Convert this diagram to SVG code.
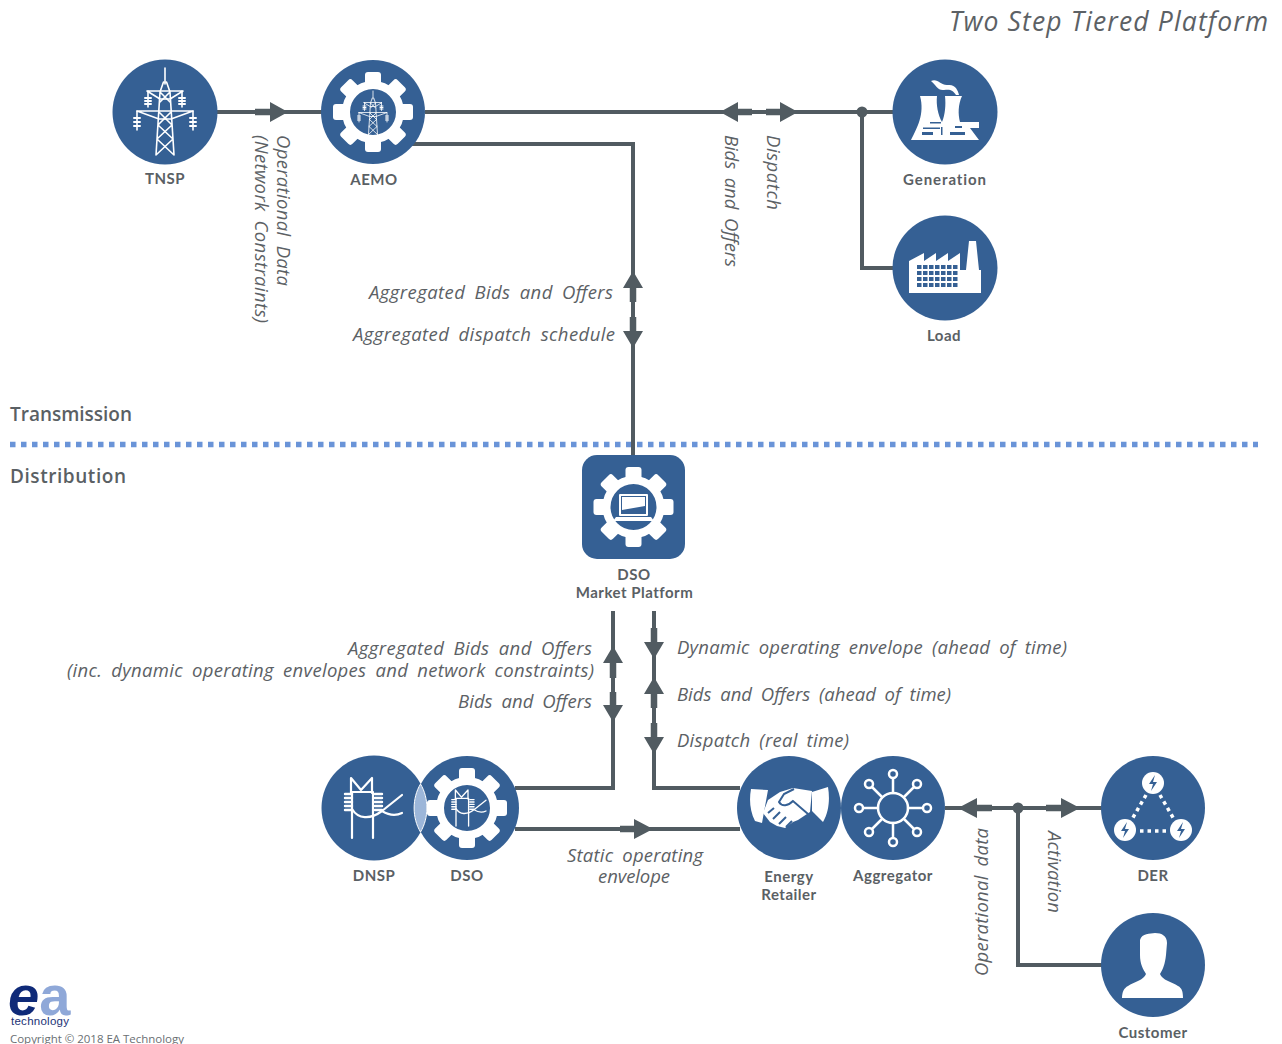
<svg xmlns="http://www.w3.org/2000/svg" xmlns:xlink="http://www.w3.org/1999/xlink" width="1282" height="1044" viewBox="0 0 1282 1044">
<style>
text{font-family:"Open Sans","Liberation Sans",sans-serif;fill:#595f63}
.n{font-family:Lato,"Open Sans",sans-serif;font-size:15px;font-weight:700;text-anchor:middle;fill:#5a6064;letter-spacing:.5px}
.l{font-size:18.5px;font-style:italic;word-spacing:4px;fill:#5c6165}
.s{font-size:19px;font-weight:600;fill:#5a6064}
.c{fill:#356094}
.w{stroke:#fff;fill:none;stroke-linecap:round;stroke-linejoin:round}
.wf{fill:#fff}
.ln{fill:none;stroke:#515b61;stroke-width:4}
.st{fill:none;stroke:#515b61;stroke-width:6.500}
.ah{fill:#515b61}
.logo{font-family:"Liberation Sans",sans-serif;font-size:56px;font-weight:700}
</style>
<defs>
<g id="gear">
<circle r="27" fill="none" stroke="#fff" stroke-width="8"/>
<g class="wf">
<rect x="-8" y="-40" width="16" height="15" rx="3"/>
<rect x="-8" y="-40" width="16" height="15" rx="3" transform="rotate(45)"/>
<rect x="-8" y="-40" width="16" height="15" rx="3" transform="rotate(90)"/>
<rect x="-8" y="-40" width="16" height="15" rx="3" transform="rotate(135)"/>
<rect x="-8" y="-40" width="16" height="15" rx="3" transform="rotate(180)"/>
<rect x="-8" y="-40" width="16" height="15" rx="3" transform="rotate(225)"/>
<rect x="-8" y="-40" width="16" height="15" rx="3" transform="rotate(270)"/>
<rect x="-8" y="-40" width="16" height="15" rx="3" transform="rotate(315)"/>
</g>
</g>
<g id="pylon" class="w" stroke-width="1.600">
<path d="M0-44V-28M-1.500-30L-5-20M1.500-30L5-20M-5-20L-9 43M5-20L9 43M-5-20L5-10M5-20L-5-10M-6 0L7 13M6 0L-7 13M-7 13L8 27M7 13L-8 27M-8 27L9 43M8 27L-9 43"/>
<path d="M-18-21H18L5-13H-5ZM-28-1H28L6 7H-6Z"/>
<path d="M-17-21V-5M17-21V-5M-28-1V18M28-1V18"/>
<path d="M-20-14H-14M-20-11H-14M-20-8H-14M14-14H20M14-11H20M14-8H20M-31 6H-25M-31 10H-25M-31 14H-25M25 6H31M25 10H31M25 14H31" stroke-width="2"/>
</g>
<g id="sub" class="w" stroke-width="2.200">
<path d="M-11-15V-30L-1-18L10-30V-15"/>
<path d="M-11-16H11M-10-16V30M11-16V30"/>
<path d="M-17-14H-10M-17-10H-10M-17-6H-10M-17-2H-10M-17 2H-10M13-14H20M13-10H20M13-6H20M13-2H20M13 2H20" stroke-width="2.400"/>
<path d="M-10 1C-4 11 8 12 20 3L40-13M20 3C28 8 34 8 40 5"/>
</g>
<g id="bolt"><circle r="11" fill="#fff"/><path d="M2-8L-4 1H0L-2 8L4-1H0Z" fill="#356094"/></g>
</defs>

<g id="tier-divider"><path d="M10 444.500H1258" fill="none" stroke="#6a94d8" stroke-width="5.500" stroke-dasharray="5.500 5.500"/></g>

<g id="connectors">
<path class="ln" d="M217 112H322M425 112H893"/>
<path class="ln" d="M412 144H633V455"/>
<path class="ln" d="M893 268H862V112"/>
<circle cx="862" cy="112" r="5.500" class="ah"/>
<path class="ln" d="M613 611V788H515"/>
<path class="ln" d="M654 611V788H740"/>
<path class="ln" d="M515 829H740"/>
<path class="ln" d="M945 808H1102M1102 965H1018V808"/>
<circle cx="1018" cy="808" r="5.500" class="ah"/>
<path class="st" d="M255 112H272M737 112H752M766 112H782M633 288V302M633 317V332M613 663V678M613 692V706M654 628V643M654 693V708M654 723V738M620 829H636M976 808H992M1046 808H1062"/>
<path class="ah" d="M270 102L288 112L270 122ZM738 102L720 112L738 122ZM780 102L798 112L780 122ZM623 288L633 271L643 288ZM623 331L633 348L643 331ZM603 663L613 646L623 663ZM603 705L613 722L623 705ZM644 642L654 659L664 642ZM644 694L654 677L664 694ZM644 737L654 754L664 737ZM634 819L653 829L634 839ZM977 798L958 808L977 818ZM1061 798L1080 808L1061 818Z"/>
</g>

<g id="tnsp"><circle class="c" cx="165" cy="112" r="52.500"/><use xlink:href="#pylon" href="#pylon" transform="translate(165 112)"/><text class="n" x="165" y="184">TNSP</text></g>
<g id="aemo"><circle class="c" cx="373" cy="112" r="52"/><use href="#gear" xlink:href="#gear" transform="translate(373 112)"/><use href="#pylon" xlink:href="#pylon" transform="translate(373 113) scale(.5)"/><text class="n" x="374" y="185">AEMO</text></g>

<g id="generation"><circle class="c" cx="945" cy="112" r="52.500"/>
<path class="wf" d="M920 96H937C936 105 938 115 942 122C945 115 946 105 945 96H962C958 105 958 114 960 122H979V128H970L979 140H911C917 128 925 114 920 96Z"/>
<path class="wf" d="M931 81C938 78 941 86 948 85C955 84 958 90 959 95H956C953 90 950 89 944 90C938 91 936 85 931 81Z"/>
<g fill="#356094"><rect x="930" y="122" width="11" height="1.500"/><rect x="923" y="127.500" width="17" height="1.500"/><rect x="922" y="132" width="11" height="3"/><rect x="941" y="127" width="1.500" height="8"/><rect x="950" y="132" width="15" height="3"/><rect x="955" y="126" width="7" height="2"/></g>
<text class="n" x="945" y="185" letter-spacing=".9" style="letter-spacing:.9px">Generation</text></g>

<g id="load"><circle class="c" cx="945" cy="268" r="52.500"/>
<path class="wf" d="M909 261L924 253V261L936 253V261L948 253V261L960 253V270H966L969 241H976L979 270H981V293H909Z"/>
<path d="M917 267H959M917 273H959M917 279H959M917 285H959" fill="none" stroke="#356094" stroke-width="4" stroke-dasharray="4.500 1.500"/>
<text class="n" x="944" y="341">Load</text></g>

<g id="dso-market"><rect class="c" x="582" y="455" width="103" height="104" rx="15"/><use href="#gear" xlink:href="#gear" transform="translate(633.500 507)"/>
<path class="w" stroke-width="2" d="M620 495H647V515H620Z"/><path class="wf" d="M622 497H645V506L622 510ZM616 517H651L654 521H613Z"/>
<text class="n" x="634" y="580">DSO</text><text class="n" x="634.500" y="598">Market Platform</text></g>

<g id="dnsp"><circle class="c" cx="374" cy="808" r="52.500"/><use href="#sub" xlink:href="#sub" transform="translate(362 808)"/><text class="n" x="374" y="881">DNSP</text></g>
<g id="dso"><circle class="c" cx="467" cy="808" r="52"/><path d="M420.500 784C412 798 412 818 420.500 832C429 818 429 798 420.500 784Z" fill="#9cb6d9" stroke="#fff" stroke-width="1"/><use href="#gear" xlink:href="#gear" transform="translate(467 808)"/><use href="#sub" xlink:href="#sub" transform="translate(462 808) scale(.6)"/><text class="n" x="467" y="881">DSO</text></g>

<g id="energy-retailer"><circle class="c" cx="789" cy="808" r="52"/>
<path class="wf" d="M751 789L768 790L762 823L755 821C750 811 749 800 751 789ZM812 792L828 787C830 799 829 812 823 822L812 811Z"/>
<path class="wf" d="M768 800L780 792L793 788L812 791L810 812L798 820L793 822L785 828L777 826L770 822L763 813Z"/>
<path d="M794 789L784 794L779 802C782 807 788 806 793 801L808 814M768 813L774 808M773 819L780 812M779 824L786 817M786 827L792 821" fill="none" stroke="#356094" stroke-width="2"/>
<text class="n" x="789" y="882">Energy</text><text class="n" x="789" y="900">Retailer</text></g>

<g id="aggregator"><circle class="c" cx="893" cy="808" r="52"/>
<g class="w" stroke-width="2.500"><circle cx="893" cy="808" r="15"/><path d="M893 793V777M893 823V839M878 808H862M908 808H924M882 797L872 787M904 797L914 787M882 819L872 829M904 819L914 829"/>
<g fill="#356094"><circle cx="893" cy="774" r="4"/><circle cx="893" cy="842" r="4"/><circle cx="859" cy="808" r="4"/><circle cx="927" cy="808" r="4"/><circle cx="869" cy="784" r="4"/><circle cx="917" cy="784" r="4"/><circle cx="869" cy="832" r="4"/><circle cx="917" cy="832" r="4"/></g></g>
<text class="n" x="893" y="881">Aggregator</text></g>

<g id="der"><circle class="c" cx="1153" cy="808" r="52"/><use href="#bolt" xlink:href="#bolt" transform="translate(1153 783)"/><use href="#bolt" xlink:href="#bolt" transform="translate(1125 830)"/><use href="#bolt" xlink:href="#bolt" transform="translate(1181 830)"/>
<path d="M1146 795L1131 821M1160 795L1175 821M1140 831H1168" stroke="#fff" stroke-width="3.500" stroke-dasharray="3.500 4" fill="none"/>
<text class="n" x="1153" y="881">DER</text></g>

<g id="customer"><circle class="c" cx="1153" cy="965" r="52"/>
<path class="wf" d="M1140 940C1142 933 1150 934 1155 933C1162 933 1167 936 1167 943L1166 955C1165 964 1163 969 1160 974C1162 980 1172 982 1178 986C1182 988 1183 992 1183 998H1122C1122 992 1124 988 1128 986C1134 982 1144 980 1146 974C1143 969 1140 964 1140 955Z"/>
<text class="n" x="1153" y="1038">Customer</text></g>

<g id="labels">
<text x="949" y="31" style="font-size:26.500px;font-style:italic;fill:#5c6165" textLength="319" lengthAdjust="spacing">Two Step Tiered Platform</text>
<text class="s" x="10" y="421" textLength="122">Transmission</text>
<text class="s" x="10" y="483" textLength="116">Distribution</text>
<text class="l" transform="translate(277 135) rotate(90)" textLength="151">Operational  Data</text>
<text class="l" transform="translate(255 135) rotate(90)" textLength="188">(Network Constraints)</text>
<text class="l" transform="translate(725 135) rotate(90)" textLength="132">Bids and Offers</text>
<text class="l" transform="translate(767 135) rotate(90)" textLength="75">Dispatch</text>
<text class="l" x="369" y="299" textLength="244">Aggregated Bids and Offers</text>
<text class="l" x="353" y="341" textLength="262">Aggregated dispatch schedule</text>
<text class="l" x="348" y="655" textLength="244">Aggregated Bids and Offers</text>
<text class="l" x="67" y="677" textLength="527">(inc. dynamic operating envelopes and network constraints)</text>
<text class="l" x="458" y="708" textLength="134">Bids and Offers</text>
<text class="l" x="677" y="654" textLength="390">Dynamic operating envelope (ahead of time)</text>
<text class="l" x="677" y="701" textLength="274">Bids and Offers (ahead of time)</text>
<text class="l" x="677" y="747" textLength="172">Dispatch (real time)</text>
<text class="l" x="567" y="862" textLength="136">Static operating</text>
<text class="l" x="598" y="883" textLength="72">envelope</text>
<text class="l" transform="translate(988 976) rotate(-90)" textLength="148">Operational data</text>
<text class="l" transform="translate(1048 831) rotate(90)" textLength="82">Activation</text>
</g>

<g id="logo">
<text class="logo" x="8" y="1015"><tspan style="fill:#0f2a78;font-style:italic">e</tspan><tspan style="fill:#8fa8d8">a</tspan></text>
<text x="11" y="1025" style="font-family:'Liberation Sans',sans-serif;font-size:11.500px;fill:#1b3276" textLength="58">technology</text>
<text x="10" y="1043" style="font-size:11.500px;fill:#6a6f73" textLength="174">Copyright © 2018 EA Technology</text>
</g>
</svg>
